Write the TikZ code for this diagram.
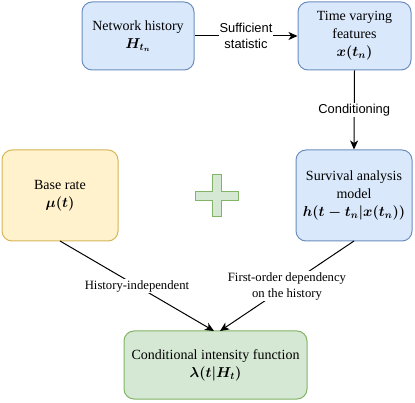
\documentclass[tikz,border=0pt]{standalone}
\usepackage{fontspec}
\setmainfont{Liberation Serif}
\setsansfont{Liberation Sans}
\usetikzlibrary{arrows.meta}
\definecolor{bfill}{HTML}{DAE8FC}
\definecolor{bdraw}{HTML}{6C8EBF}
\definecolor{yfill}{HTML}{FFF2CC}
\definecolor{ydraw}{HTML}{D6B656}
\definecolor{gfill}{HTML}{D5E8D4}
\definecolor{gdraw}{HTML}{82B366}
\newcommand{\bm}[1]{{\boldmath$#1$}}
\begin{document}
\begin{tikzpicture}[x=1pt,y=-1pt,
  box/.style={draw, rounded corners=10pt, line width=1pt, align=center, inner sep=0pt,
    font=\fontsize{14}{18}\selectfont},
  bluebox/.style={box, fill=bfill, draw=bdraw},
  yellowbox/.style={box, fill=yfill, draw=ydraw},
  greenbox/.style={box, fill=gfill, draw=gdraw},
  conn/.style={line width=1pt, -{Stealth[length=9pt,width=8pt,inset=2.5pt]}},
  sanslab/.style={fill=white, inner sep=1pt, align=center, font=\sffamily\fontsize{12.9}{16}\selectfont},
  seriflab/.style={fill=white, inner sep=1pt, align=center, font=\fontsize{12.7}{16}\selectfont}]
\useasboundingbox (0,0) rectangle (415,403);

\node[bluebox, minimum width=112pt, minimum height=68pt] (net) at (138,36)
  {Network history\\\bm{H_{t_n}}};
\node[bluebox, minimum width=113pt, minimum height=68pt] (tvf) at (354.5,36)
  {Time varying\\features\\\bm{x(t_n)}};
\node[bluebox, minimum width=116pt, minimum height=91pt] (surv) at (354,195.5)
  {Survival analysis\\model\\\bm{h(t-t_n|x(t_n))}};
\node[yellowbox, minimum width=116pt, minimum height=91pt] (base) at (60,195.5)
  {Base rate\\\bm{\mu(t)}};
\node[greenbox, minimum width=183pt, minimum height=68pt] (cif) at (215.5,365)
  {Conditional intensity function\\\bm{\lambda(t|H_t)}};

% plus sign
\draw[fill=gfill, draw=gdraw, line width=1pt]
  (212.5,175) -- (221.5,175) -- (221.5,191.5) -- (238.5,191.5) -- (238.5,200.5)
  -- (221.5,200.5) -- (221.5,217) -- (212.5,217) -- (212.5,200.5) -- (195.5,200.5)
  -- (195.5,191.5) -- (212.5,191.5) -- cycle;

\coordinate (bstart) at (60,241);
\coordinate (sstart) at (354,241);
\coordinate (lend) at (214,331);
\coordinate (rend) at (220,331);

\draw[conn] (net.east) -- node[sanslab] {Sufficient\\statistic} (tvf.west);
\draw[conn] (tvf.south) -- node[sanslab, pos=0.5] {Conditioning} (surv.north);
\draw[conn] (bstart) -- node[seriflab, pos=0.5] {History-independent} (lend);
\draw[conn] (sstart) -- node[seriflab, pos=0.5] {First-order dependency\\on the history} (rend);
\end{tikzpicture}
\end{document}
